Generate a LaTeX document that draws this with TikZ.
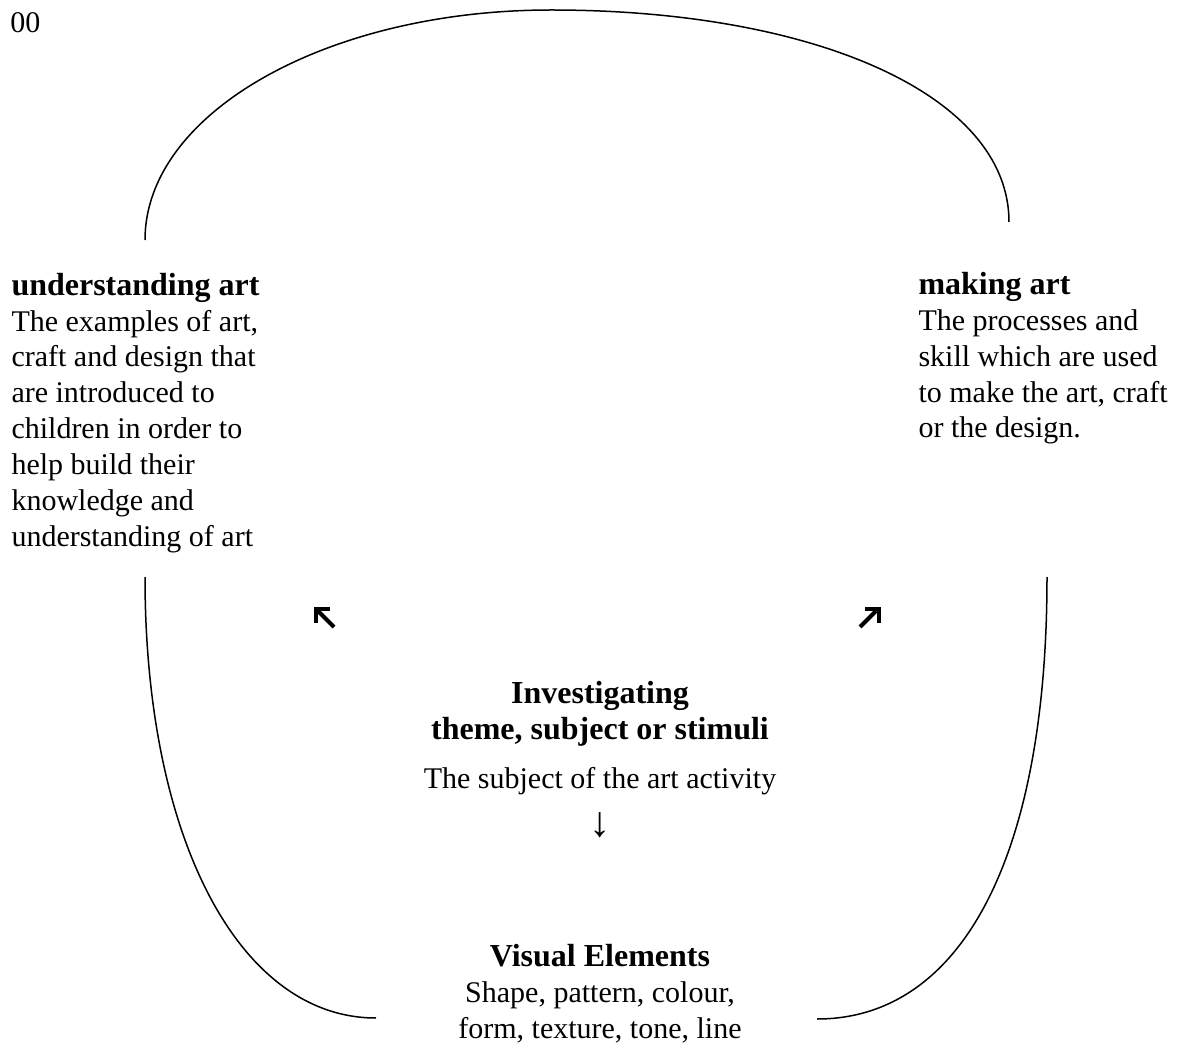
\documentclass[tikz,border=0pt]{standalone}
\usepackage{fontspec}
\setmainfont{Liberation Serif}
\newcommand{\bhead}[1]{{\fontsize{12.8}{14.32}\selectfont\bfseries #1}}
\begin{document}
\begin{tikzpicture}[x=0.4pt,y=-0.4pt,
  txt/.style={inner sep=0pt, font=\fontsize{12}{14.32}\selectfont, align=left, anchor=base west},
  ctr/.style={inner sep=0pt, font=\fontsize{12}{14.32}\selectfont, align=center, anchor=base},
  curve/.style={line width=0.6pt},
  bigarrow/.style={line width=1.6pt, miter limit=10}]
\useasboundingbox (0,0) rectangle (1194,1045);

% texts (multi-line nodes are anchored at the baseline of their last line)
\node[txt] (num) at (10,33) {00};
\node[txt] (ua) at (11,546) {\bhead{understanding art}\\The examples of art,\\craft and design that\\are introduced to\\children in order to\\help build their\\knowledge and\\understanding of art};
\node[txt] (ma) at (918,438) {\bhead{making art}\\The processes and\\skill which are used\\to make the art, craft\\or the design.};
\node[ctr] (inv) at (600,739) {\bhead{Investigating}\\\bhead{theme, subject or stimuli}};
\node[ctr] (subj) at (600,788) {The subject of the art activity};
\node[ctr, font=\fontsize{17}{20}\selectfont] (down) at (600,836) {↓};
\node[ctr] (ve) at (600,1038) {\bhead{Visual Elements}\\Shape, pattern, colour,\\form, texture, tone, line};

% curves
\coordinate (tl) at (145,240);
\coordinate (tp) at (551,10);
\coordinate (tr) at (1009,222);
\draw[curve] (tl) .. controls (145,113) and (327,10) .. (tp)
                  .. controls (815,10) and (1009,95) .. (tr);
\coordinate (bl1) at (145,577);
\coordinate (bl2) at (376,1018);
\draw[curve] (bl1) .. controls (145,840) and (240,1018) .. (bl2);
\coordinate (br1) at (1047,577);
\coordinate (br2) at (817,1019);
\draw[curve] (br1) .. controls (1047,860) and (960,1019) .. (br2);

% bold arrows
\coordinate (la1) at (334,627);
\coordinate (la2) at (318,611);
\draw[bigarrow] (la1) -- (la2);
\draw[bigarrow] (316,623) -- (316,609) -- (330,609);
\coordinate (ra1) at (860,627);
\coordinate (ra2) at (876,611);
\draw[bigarrow] (ra1) -- (ra2);
\draw[bigarrow] (865,609) -- (879,609) -- (879,623);
\end{tikzpicture}
\end{document}
